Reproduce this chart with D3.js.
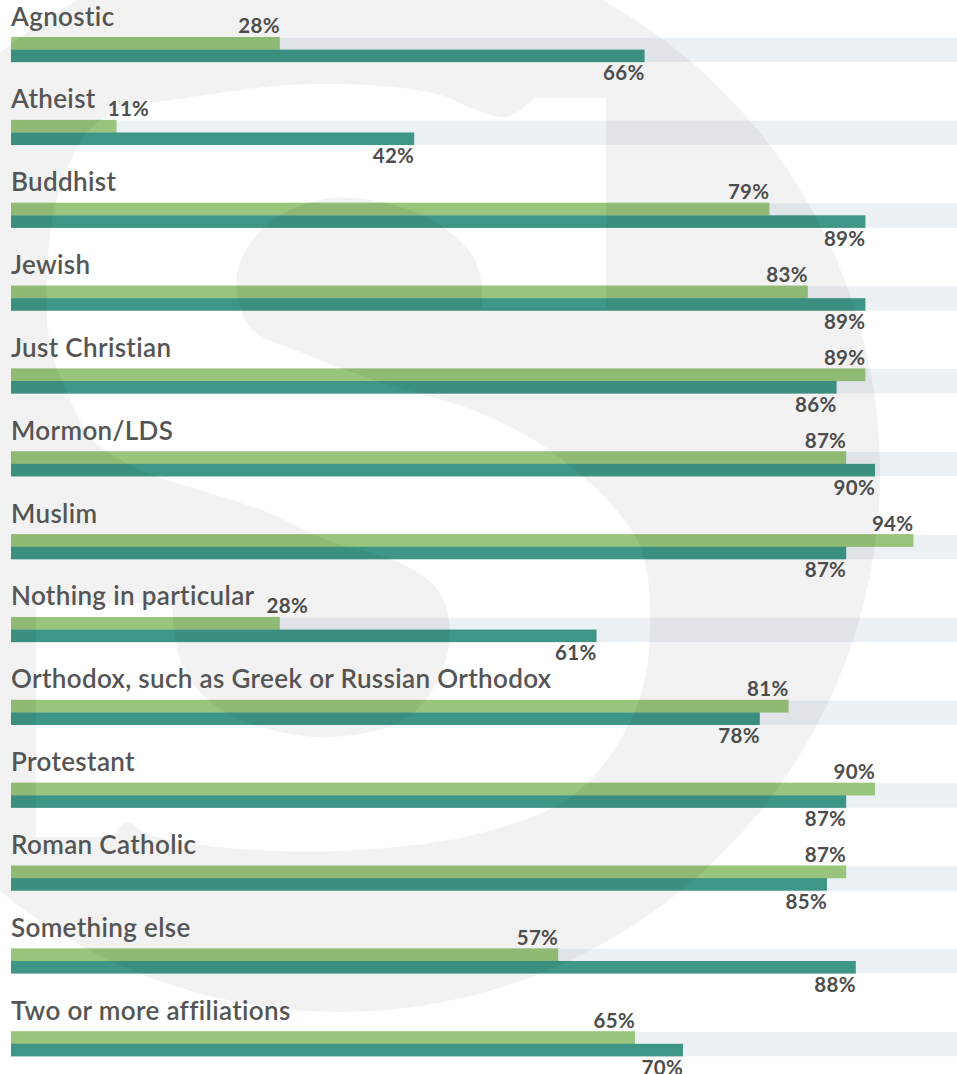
<!DOCTYPE html>
<html>
<head>
<meta charset="utf-8">
<script src="https://cdn.jsdelivr.net/npm/d3@7"></script>
<style>
  html, body { margin: 0; padding: 0; background: #ffffff; }
  svg { display: block; }
</style>
</head>
<body>
<svg id="chart" width="957" height="1074"></svg>
<script>
// Religious affiliation groups, two measures each (percent)
const categories = [
  "Agnostic", "Atheist", "Buddhist", "Jewish", "Just Christian", "Mormon/LDS",
  "Muslim", "Nothing in particular", "Orthodox, such as Greek or Russian Orthodox",
  "Protestant", "Roman Catholic", "Something else", "Two or more affiliations"
];
const greenValues = [28, 11, 79, 83, 89, 87, 94, 28, 81, 90, 87, 57, 65];
const tealValues  = [66, 42, 89, 89, 86, 90, 87, 61, 78, 87, 85, 88, 70];

const W = 957, H = 1074;
const svg = d3.select("#chart");

const COLORS = { green: "#98c47b", teal: "#3e9786", track: "#ecf1f5", label: "#555555", value: "#4d4d4d" };
const FONT = "Lato, 'Open Sans', sans-serif";

const x = d3.scaleLinear().domain([0, 100]).range([11, 971]);
const y = d3.scalePoint().domain(categories).range([37, 37 + 82.85 * 12]);

const barH = 12.6;
const rows = categories.map((c, i) => ({ cat: c, g: greenValues[i], t: tealValues[i] }));

const bars = svg.append("g");

// background tracks
bars.selectAll("rect.track").data(rows).join("rect")
  .attr("class", "track")
  .attr("x", x(0)).attr("width", x(100) - x(0))
  .attr("y", d => y(d.cat) + 0.8).attr("height", 24.2)
  .attr("fill", COLORS.track);

bars.selectAll("rect.green").data(rows).join("rect")
  .attr("class", "green")
  .attr("x", x(0)).attr("width", d => x(d.g) - x(0))
  .attr("y", d => y(d.cat)).attr("height", barH + 0.2)
  .attr("fill", COLORS.green);

bars.selectAll("rect.teal").data(rows).join("rect")
  .attr("class", "teal")
  .attr("x", x(0)).attr("width", d => x(d.t) - x(0))
  .attr("y", d => y(d.cat) + barH).attr("height", barH)
  .attr("fill", COLORS.teal);

// Faint circular "S" logo laid over the bars
const logo = { cx: 340, cy: 472, r: 540 };
const sRight = [[482,308],[480,275],[467,248],[417,213],[333,198],[267,224],[237,275],[250,327],
  [300,352],[380,382],[480,413],[560,458],[637,540],[650,617],[637,706],[577,792],[477,834],
  [333,851],[200,845],[145,833],[127,822],[112,837]];
const sLeft = [[173,603],[175,640],[190,680],[225,712],[280,732],[333,737],[400,722],[433,689],
  [450,637],[438,590],[400,563],[327,540],[267,512],[200,490],[140,470],[93,440],[67,392],
  [50,344],[47,275],[60,189],[100,120],[200,96],[317,84],[433,93],[477,110],[507,117],[535,98]];
const smooth = pts => d3.line().curve(d3.curveCatmullRom.alpha(0.5))(pts).replace(/^M/, "L");
const sPath = "M606,98L606,308" + smooth(sRight) + "L36,837L36,603" + smooth(sLeft) + "L606,98Z";
const r = logo.r;
const discPath = `M${logo.cx - r},${logo.cy}a${r},${r} 0 1,0 ${2 * r},0a${r},${r} 0 1,0 ${-2 * r},0Z`;
svg.append("path")
  .attr("d", discPath + sPath)
  .attr("fill-rule", "evenodd")
  .attr("fill", "#000")
  .attr("fill-opacity", 0.05);

// labels
const labels = svg.append("g");
const catText = labels.selectAll("text.cat").data(rows).join("text")
  .attr("class", "cat")
  .attr("x", x(0)).attr("y", d => y(d.cat) - 11.5)
  .attr("font-family", FONT)
  .attr("font-weight", 600).attr("font-size", 26)
  .attr("letter-spacing", 0.35)
  .attr("fill", COLORS.label)
  .text(d => d.cat);

const catEnds = [];
catText.each(function (d, i) { catEnds[i] = x(0) + this.getComputedTextLength(); });

const fmt = v => v + "%";
labels.selectAll("text.gval").data(rows).join("text")
  .attr("class", "gval")
  .attr("font-family", FONT)
  .attr("font-weight", 700).attr("font-size", 20.5)
  .attr("letter-spacing", 0.3)
  .attr("fill", COLORS.value)
  .attr("y", d => y(d.cat) - 3.6)
  .text(d => fmt(d.g))
  .each(function (d, i) {
    const w = this.getComputedTextLength();
    const end = x(d.g);
    const minStart = catEnds[i] + 12;
    if (end - w < minStart) {
      d3.select(this).attr("x", minStart).attr("text-anchor", "start");
    } else {
      d3.select(this).attr("x", end).attr("text-anchor", "end");
    }
  });

labels.selectAll("text.tval").data(rows).join("text")
  .attr("class", "tval")
  .attr("font-family", FONT)
  .attr("font-weight", 700).attr("font-size", 20.5)
  .attr("letter-spacing", 0.3)
  .attr("fill", COLORS.value)
  .attr("x", d => x(d.t)).attr("text-anchor", "end")
  .attr("y", d => y(d.cat) + 43.3)
  .text(d => fmt(d.t));
</script>
</body>
</html>
